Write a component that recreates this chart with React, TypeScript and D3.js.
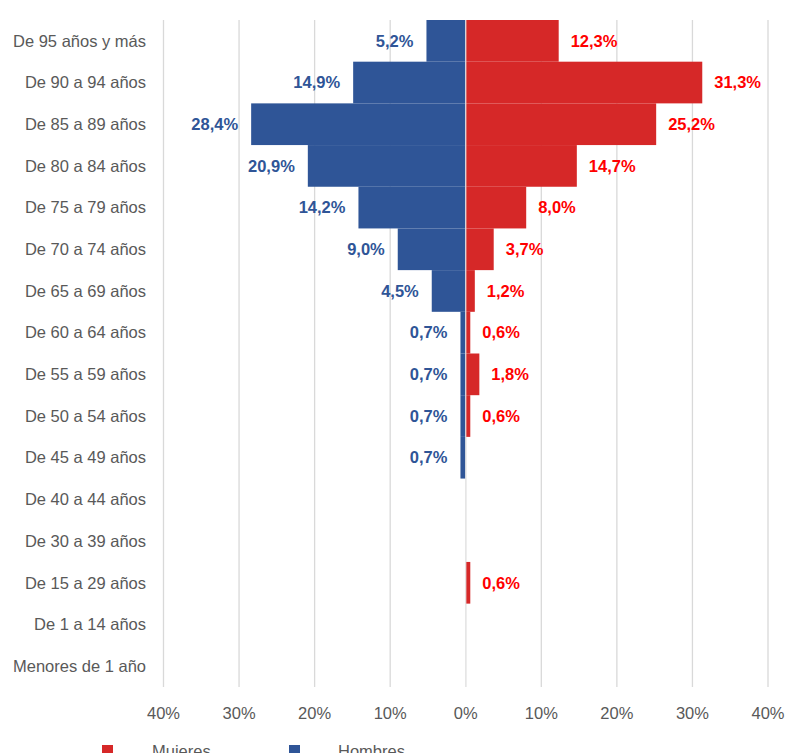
import React from "react";
import * as d3 from "d3";

const categories: string[] = [
  "De 95 años y más",
  "De 90 a 94 años",
  "De 85 a 89 años",
  "De 80 a 84 años",
  "De 75 a 79 años",
  "De 70 a 74 años",
  "De 65 a 69 años",
  "De 60 a 64 años",
  "De 55 a 59 años",
  "De 50 a 54 años",
  "De 45 a 49 años",
  "De 40 a 44 años",
  "De 30 a 39 años",
  "De 15 a 29 años",
  "De 1 a 14 años",
  "Menores de 1 año",
];

const hombres: number[] = [5.2, 14.9, 28.4, 20.9, 14.2, 9.0, 4.5, 0.7, 0.7, 0.7, 0.7, 0, 0, 0, 0, 0];
const mujeres: number[] = [12.3, 31.3, 25.2, 14.7, 8.0, 3.7, 1.2, 0.6, 1.8, 0.6, 0, 0, 0, 0.6, 0, 0];

const ticks: number[] = [-40, -30, -20, -10, 0, 10, 20, 30, 40];

const seriesNames = ["Mujeres", "Hombres"];
const RED = "#D62828";
const BLUE = "#2F5597";
const RED_LABEL = "#FF0000";
const GRAY_TEXT = "#595959";
const GRID = "#D9D9D9";
const FONT = "'Liberation Sans', Arial, sans-serif";

const fmt = (v: number) => v.toFixed(1).replace(".", ",") + "%";

export default function App() {
  const W = 787;
  const H = 753;
  const x = d3.scaleLinear().domain([-40, 40]).range([163.5, 768]);
  const y = d3.scaleBand<string>().domain(categories).range([20, 687]).padding(0);
  const bw = y.bandwidth();

  return (
    <svg
      width={W}
      height={H}
      style={{ position: "fixed", left: 0, top: 0, display: "block", background: "#fff" }}
      fontFamily={FONT}
    >
      {/* gridlines */}
      {ticks.map((t) => (
        <line key={"g" + t} x1={x(t)} x2={x(t)} y1={20} y2={687} stroke={GRID} strokeWidth={1.3} />
      ))}
      {/* bars */}
      {categories.map((c, i) =>
        hombres[i] > 0 ? (
          <rect key={"h" + c} x={x(-hombres[i])} y={y(c)!} width={x(0) - x(-hombres[i])} height={bw} fill={BLUE} />
        ) : null
      )}
      {categories.map((c, i) =>
        mujeres[i] > 0 ? (
          <rect key={"m" + c} x={x(0)} y={y(c)!} width={x(mujeres[i]) - x(0)} height={bw} fill={RED} />
        ) : null
      )}
      <line x1={x(0)} x2={x(0)} y1={20} y2={687} stroke="#E8E8E8" strokeWidth={1.2} />
      {/* data labels */}
      {categories.map((c, i) =>
        hombres[i] > 0 ? (
          <text
            key={"hl" + c}
            x={x(-hombres[i]) - 13}
            y={y(c)! + bw / 2}
            dy="0.35em"
            textAnchor="end"
            fontWeight="bold"
            fontSize={16.5}
            fill={BLUE}
          >
            {fmt(hombres[i])}
          </text>
        ) : null
      )}
      {categories.map((c, i) =>
        mujeres[i] > 0 ? (
          <text
            key={"ml" + c}
            x={x(mujeres[i]) + 12}
            y={y(c)! + bw / 2}
            dy="0.35em"
            textAnchor="start"
            fontWeight="bold"
            fontSize={16.5}
            fill={RED_LABEL}
          >
            {fmt(mujeres[i])}
          </text>
        ) : null
      )}
      {/* category labels */}
      {categories.map((c) => (
        <text key={"c" + c} x={146} y={y(c)! + bw / 2} dy="0.35em" textAnchor="end" fontSize={16.5} fill={GRAY_TEXT}>
          {c}
        </text>
      ))}
      {/* x tick labels */}
      {ticks.map((t) => (
        <text key={"t" + t} x={x(t)} y={713} dy="0.35em" textAnchor="middle" fontSize={16.5} fill={GRAY_TEXT}>
          {Math.abs(t) + "%"}
        </text>
      ))}
      {/* legend */}
      <rect x={102} y={745} width={11} height={11} fill={RED} />
      <text x={152} y={757} fontSize={16.5} fill={GRAY_TEXT}>
        {seriesNames[0]}
      </text>
      <rect x={289} y={745} width={11} height={11} fill={BLUE} />
      <text x={338} y={757} fontSize={16.5} fill={GRAY_TEXT}>
        {seriesNames[1]}
      </text>
    </svg>
  );
}
